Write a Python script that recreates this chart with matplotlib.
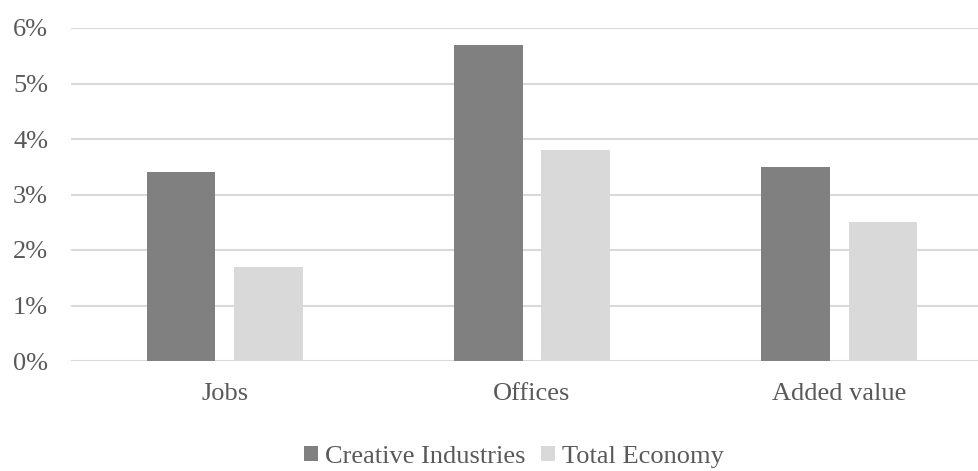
import numpy as np
import matplotlib.pyplot as plt

plt.rcParams['font.family'] = ['Liberation Serif', 'DejaVu Serif']

categories = ['Jobs', 'Offices', 'Added value']
creative = [3.4, 5.7, 3.5]
total = [1.7, 3.8, 2.5]
yticks = [0, 1, 2, 3, 4, 5, 6]

txt = '#595959'
fig = plt.figure(figsize=(9.79, 4.71), dpi=100)
# plot area runs a little past the right edge of the picture, as in the original
ax = fig.add_axes([71 / 979, 1 - 361 / 471, 922 / 979, 333 / 471])

x = np.arange(len(categories))
w = 0.223
off = 0.1423
ax.bar(x - off, creative, w, color='#808080', label='Creative Industries', zorder=3)
ax.bar(x + off, total, w, color='#d9d9d9', label='Total Economy', zorder=3)

ax.set_xlim(-0.5, 2.5)
ax.set_ylim(0, 6)
ax.set_yticks(yticks)
ax.set_yticklabels([f'{v}%' for v in yticks])
ax.set_xticks(x)
ax.set_xticklabels(categories)
ax.grid(axis='y', color='#d9d9d9', linewidth=1.5, zorder=0)
for s in ax.spines.values():
    s.set_visible(False)
ax.tick_params(length=0, labelsize=19, labelcolor=txt)
ax.tick_params(axis='y', pad=16.5)
ax.tick_params(axis='x', pad=16)

fig.legend(loc='center', bbox_to_anchor=(514 / 979, 1 - 457 / 471), ncol=2, frameon=False,
           fontsize=19, labelcolor=txt, handlelength=0.53, handleheight=0.53,
           handletextpad=0.25, columnspacing=0.6)

fig.savefig('out.png', dpi=100)
